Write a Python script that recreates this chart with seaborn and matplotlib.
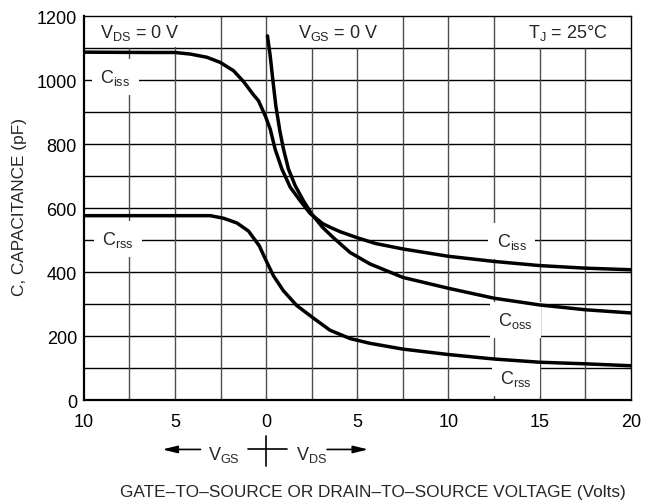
import numpy as np
import pandas as pd
import matplotlib
matplotlib.use("Agg")
import matplotlib.pyplot as plt
import seaborn as sns

# curves (x < 0 is V_GS, x > 0 is V_DS)
ciss_v = [-10, -6.4, -5, -4.16, -3.25, -2.52, -1.79, -1.24, -0.7, -0.42, -0.05, 0.22, 0.49, 0.86, 1.32,
          1.86, 2.41, 3.1, 3.5, 4.05, 5, 6, 7.5, 10, 12.5, 15, 17.5, 20]
ciss_c = [1088, 1087, 1087, 1082, 1072, 1056, 1030, 996, 955, 936, 889, 848, 785, 723, 666,
          624, 584, 552, 541, 527, 508, 490, 473, 450, 434, 421, 413, 408]

coss_v = [0.07, 0.22, 0.37, 0.53, 0.75, 0.95, 1.22, 1.59, 2.04, 2.5, 3.1, 3.69, 4.6, 5.7, 7.5,
          10, 12.5, 15, 17.5, 20]
coss_c = [1139, 1077, 999, 920, 842, 785, 723, 671, 624, 582, 540, 508, 462, 426, 384,
          350, 319, 298, 283, 273]

crss_v = [-10, -5, -3.07, -2.34, -1.6, -0.97, -0.38, 0, 0.4, 0.95, 1.68, 2.54, 3.5, 4.6, 5.7,
          7.5, 10, 12.5, 15, 17.5, 20]
crss_c = [577, 577, 577, 569, 554, 529, 483, 436, 389, 342, 296, 259, 219, 193, 178,
          160, 143, 129, 119, 114, 108]

x_ticks = [-10, -5, 0, 5, 10, 15, 20]
y_ticks = [0, 200, 400, 600, 800, 1000, 1200]

sns.set_style("white")
plt.rcParams["font.family"] = ["Liberation Sans", "DejaVu Sans"]
plt.rcParams["mathtext.fontset"] = "custom"
plt.rcParams["mathtext.rm"] = "Liberation Sans"
plt.rcParams["mathtext.it"] = "Liberation Sans:italic"

fig = plt.figure(figsize=(6.45, 5.02), dpi=100)
ax = fig.add_axes([0.130, 0.2006, 0.848, 0.7649])

# grid; some vertical lines stop under the boxed labels in the top strip
hgrid = np.arange(100, 1200, 100)
vfull = [-5, -2.5, 0, 7.5, 10, 12.5]
vshort = [-7.5, 2.5, 5, 15, 17.5]
ax.hlines(hgrid, -10, 20, color="black", lw=1.0, zorder=1)
ax.vlines(vfull, 0, 1200, color="0.3", lw=1.0, zorder=1)
ax.vlines(vshort, 0, 1100, color="0.3", lw=1.0, zorder=1)

for v, c in [(ciss_v, ciss_c), (coss_v, coss_c), (crss_v, crss_c)]:
    sns.lineplot(x=v, y=c, ax=ax, color="black", lw=2.5, sort=False,
                 estimator=None, zorder=3)

ax.set_xlim(-10, 20)
ax.set_ylim(0, 1200)
ax.set_xticks(x_ticks)
ax.set_xticklabels([str(abs(t)) for t in x_ticks])
ax.set_yticks(y_ticks)
ax.tick_params(length=0, labelsize=13, colors="black")
ax.tick_params(axis="x", pad=9)
ax.tick_params(axis="y", pad=5)
for s in ["left", "bottom"]:
    ax.spines[s].set_linewidth(1.6)
for s in ["top", "right"]:
    ax.spines[s].set_linewidth(1.0)
for s in ax.spines.values():
    s.set_color("black")
    s.set_zorder(4)

box = dict(boxstyle="square,pad=0.25", fc="white", ec="none")
tk = dict(fontsize=13, va="baseline", ha="left", zorder=5, bbox=box)
ax.text(-9.1, 1134, r"V$_{\mathrm{DS}}$ = 0 V", **tk)
ax.text(1.75, 1134, r"V$_{\mathrm{GS}}$ = 0 V", **tk)
ax.text(14.36, 1134, r"T$_{\mathrm{J}}$ = 25°C", **tk)

lb = dict(boxstyle="square,pad=0.45", fc="white", ec="none")
lk = dict(fontsize=13, va="baseline", ha="left", zorder=2, bbox=lb)
ax.text(-9.1, 994, r"C$_{\mathrm{iss}}$", **lk)
ax.text(-9.0, 488, r"C$_{\mathrm{rss}}$", **lk)
ax.text(12.64, 483, r"C$_{\mathrm{iss}}$", **lk)
ax.text(12.73, 235, r"C$_{\mathrm{oss}}$", **lk)
ax.text(12.82, 54, r"C$_{\mathrm{rss}}$", **lk)

# V_GS <- | -> V_DS marker under the x axis
tr = ax.get_xaxis_transform()
ay = -0.128
arr = dict(arrowstyle="-|>,head_length=0.9,head_width=0.22", lw=1.2, color="black",
           shrinkA=0, shrinkB=0)
ax.annotate("", xy=(-5.7, ay), xytext=(-3.6, ay), xycoords=tr, textcoords=tr,
            arrowprops=arr, annotation_clip=False)
ax.annotate("", xy=(5.6, ay), xytext=(3.34, ay), xycoords=tr, textcoords=tr,
            arrowprops=arr, annotation_clip=False)
ax.plot([-0.99, 1.15], [ay, ay], color="black", lw=1.2, transform=tr, clip_on=False)
ax.plot([0, 0], [-0.093, -0.171], color="black", lw=1.2, transform=tr, clip_on=False)
ax.text(-2.3, -0.153, r"V$_{\mathrm{GS}}$", transform=tr, ha="center", va="baseline", fontsize=13)
ax.text(2.47, -0.153, r"V$_{\mathrm{DS}}$", transform=tr, ha="center", va="baseline", fontsize=13)

fig.text(0.5775, 0.009, "GATE–TO–SOURCE OR DRAIN–TO–SOURCE VOLTAGE (Volts)",
         ha="center", va="baseline", fontsize=12.4)
fig.text(0.031, 0.588, "C, CAPACITANCE (pF)", rotation=90, ha="center", va="center",
         fontsize=12.4)

fig.savefig("out.png", dpi=100)
